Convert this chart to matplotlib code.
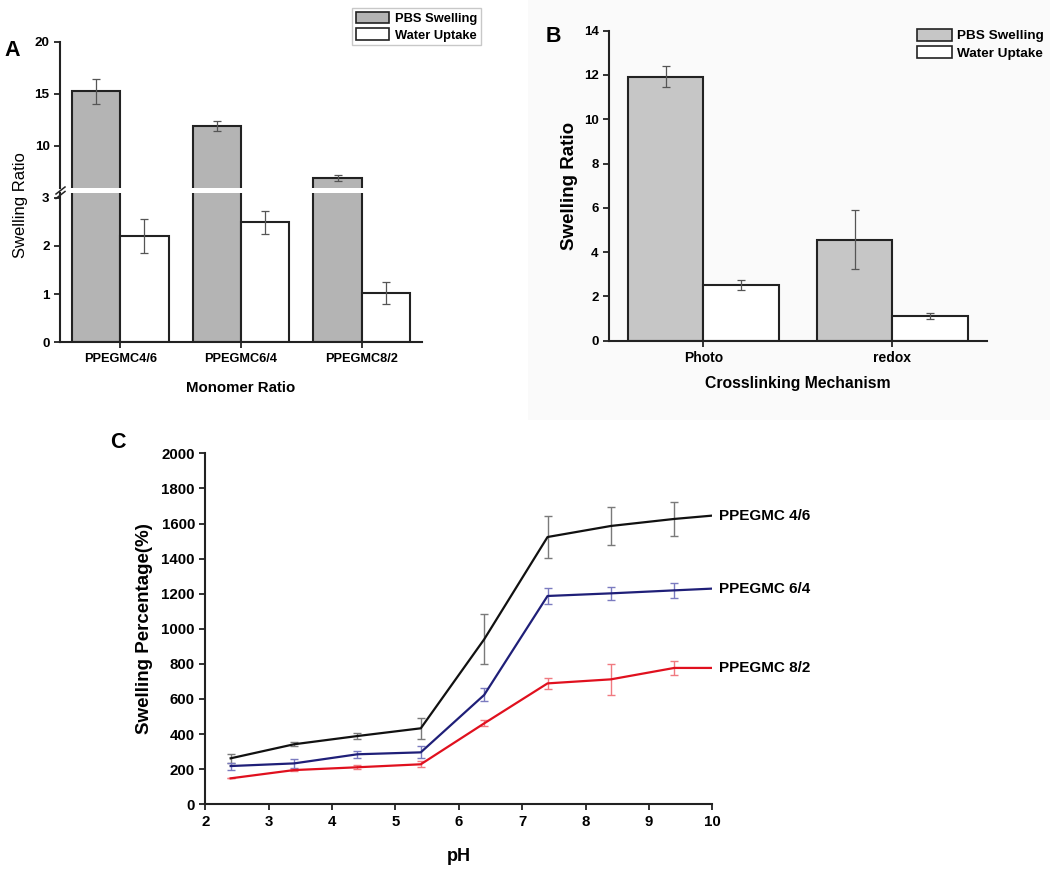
import numpy as np
import matplotlib
matplotlib.use('Agg')
import matplotlib.pyplot as plt
from matplotlib.patches import Rectangle

plt.rcParams['font.family'] = ['Liberation Sans', 'DejaVu Sans']
plt.rcParams['font.weight'] = 'bold'

# data ########################################################################
groups_a = ['PPEGMC4/6', 'PPEGMC6/4', 'PPEGMC8/2']
pbs_a = [15.25, 11.87, 6.88]
pbs_a_err = [1.2, 0.48, 0.3]
water_a = [2.21, 2.49, 1.02]
water_a_err = [0.35, 0.24, 0.23]

groups_b = ['Photo', 'redox']
pbs_b = [11.92, 4.56]
pbs_b_err = [0.47, 1.33]
water_b = [2.52, 1.12]
water_b_err = [0.24, 0.15]

ph = [2.4, 3.4, 4.4, 5.4, 6.4, 7.4, 8.4, 9.4, 10.0]
sw_46 = [262, 342, 389, 433, 940, 1523, 1586, 1626, 1645]
sw_46_err = [25, 12, 15, 60, 143, 120, 108, 95, 0]
sw_64 = [218, 233, 285, 296, 623, 1187, 1202, 1219, 1229]
sw_64_err = [20, 24, 21, 35, 37, 46, 38, 42, 0]
sw_82 = [148, 195, 211, 228, 461, 689, 712, 777, 777]
sw_82_err = [0, 8, 12, 17, 17, 30, 87, 39, 0]
series_labels = ['PPEGMC 4/6', 'PPEGMC 6/4', 'PPEGMC 8/2']
###############################################################################

W, H = 1050, 873
fig = plt.figure(figsize=(W / 100, H / 100), dpi=100)

def frac(x0, y0, x1, y1):
    # pixel box (top-left origin) -> figure fraction rect
    return [x0 / W, 1 - y1 / H, (x1 - x0) / W, (y1 - y0) / H]

# faint background behind panel B
fig.patches.append(Rectangle((528 / W, 1 - 420 / H), 1 - 528 / W, 420 / H,
                             transform=fig.transFigure, facecolor='#fafafa',
                             edgecolor='none', zorder=-10))

spine_c = '#222222'
err_c = '#555555'

def style_axes(ax, lw=1.5):
    for s in ['top', 'right']:
        ax.spines[s].set_visible(False)
    for s in ['left', 'bottom']:
        ax.spines[s].set_linewidth(lw)
        ax.spines[s].set_color(spine_c)
    ax.tick_params(direction='out', length=4, width=1.3, color=spine_c)
    ax.patch.set_alpha(0)

# Panel A (broken y axis) #####################################################
ax_lo = fig.add_axes(frac(60, 192.7, 422, 342.3))
ax_hi = fig.add_axes(frac(60, 42, 422, 187.7))
xa = np.arange(1, len(groups_a) + 1)
bw = 0.4
for ax in (ax_lo, ax_hi):
    style_axes(ax)
    ax.bar(xa - bw / 2, pbs_a, bw, color='#b4b4b4', edgecolor=spine_c, linewidth=1.5)
    ax.bar(xa + bw / 2, water_a, bw, color='white', edgecolor=spine_c, linewidth=1.5)
    ax.set_xlim(0.5, 3.5)
ax_hi.errorbar(xa - bw / 2, pbs_a, yerr=pbs_a_err, fmt='none', ecolor=err_c,
               elinewidth=0.9, capsize=3, capthick=0.9)
ax_lo.errorbar(xa + bw / 2, water_a, yerr=water_a_err, fmt='none', ecolor=err_c,
               elinewidth=0.9, capsize=3, capthick=0.9)
ax_lo.set_ylim(0, 3.1)
ax_lo.set_yticks([0, 1, 2, 3])
ax_hi.set_ylim(5.97, 20)
ax_hi.set_yticks([10, 15, 20])
ax_hi.spines['bottom'].set_visible(False)
ax_hi.tick_params(axis='x', bottom=False, labelbottom=False)
ax_lo.set_xticks(xa)
ax_lo.set_xticklabels(groups_a, fontsize=9.2, fontweight='bold')
for ax in (ax_lo, ax_hi):
    for lab in ax.get_yticklabels():
        lab.set_fontsize(9.7)
        lab.set_fontweight('bold')
ax_lo.set_xlabel('Monomer Ratio', fontsize=10.8, fontweight='bold', labelpad=12)
fig.text(20 / W, 1 - 205 / H, 'Swelling Ratio', rotation=90, fontsize=12,
         fontweight='normal', ha='center', va='center')
# break marks
for dy in (0, 4.5):
    fig.add_artist(plt.Line2D([56 / W, 65 / W], [1 - (194 + dy) / H, 1 - (187 + dy) / H],
                              color=spine_c, lw=1.1, transform=fig.transFigure))
fig.text(12 / W, 1 - 50 / H, 'A', fontsize=15.5, fontweight='bold', ha='center', va='center')
h1 = Rectangle((0, 0), 1, 1, facecolor='#b4b4b4', edgecolor=spine_c, lw=1.2)
h2 = Rectangle((0, 0), 1, 1, facecolor='white', edgecolor=spine_c, lw=1.2)
leg_a = fig.legend([h1, h2], ['PBS Swelling', 'Water Uptake'], loc='upper left',
                   bbox_to_anchor=(352 / W, 1 - 8 / H), frameon=True, fancybox=False,
                   prop={'size': 9.3, 'weight': 'bold'}, handlelength=2.6, handleheight=1.0,
                   handletextpad=0.4, labelspacing=0.25, borderpad=0.3, borderaxespad=0)
leg_a.get_frame().set_edgecolor('#bbbbbb')
leg_a.get_frame().set_linewidth(1.0)

# Panel B #####################################################################
ax_b = fig.add_axes(frac(609, 30.7, 986.7, 340.7))
style_axes(ax_b)
xb = np.arange(1, len(groups_b) + 1)
ax_b.bar(xb - bw / 2, pbs_b, bw, color='#c6c6c6', edgecolor=spine_c, linewidth=1.5)
ax_b.bar(xb + bw / 2, water_b, bw, color='white', edgecolor=spine_c, linewidth=1.5)
ax_b.errorbar(xb - bw / 2, pbs_b, yerr=pbs_b_err, fmt='none', ecolor=err_c,
              elinewidth=0.9, capsize=3, capthick=0.9)
ax_b.errorbar(xb + bw / 2, water_b, yerr=water_b_err, fmt='none', ecolor=err_c,
              elinewidth=0.9, capsize=3, capthick=0.9)
ax_b.set_xlim(0.5, 2.5)
ax_b.set_ylim(0, 14)
ax_b.set_yticks(range(0, 15, 2))
ax_b.set_xticks(xb)
ax_b.set_xticklabels(groups_b, fontsize=10, fontweight='bold')
for lab in ax_b.get_yticklabels():
    lab.set_fontsize(9.5)
    lab.set_fontweight('bold')
ax_b.set_xlabel('Crosslinking Mechanism', fontsize=11.3, fontweight='bold', labelpad=8)
ax_b.set_ylabel('Swelling Ratio', fontsize=13.5, fontweight='bold', labelpad=4)
fig.text(553 / W, 1 - 37 / H, 'B', fontsize=15.5, fontweight='bold', ha='center', va='center')
h1b = Rectangle((0, 0), 1, 1, facecolor='#c6c6c6', edgecolor=spine_c, lw=1.2)
leg_b = fig.legend([h1b, h2], ['PBS Swelling', 'Water Uptake'], loc='upper left',
                   bbox_to_anchor=(914 / W, 1 - 26 / H), frameon=False,
                   prop={'size': 9.7, 'weight': 'bold'}, handlelength=2.6, handleheight=1.0,
                   handletextpad=0.4, labelspacing=0.3, borderpad=0.2, borderaxespad=0)

# Panel C #####################################################################
ax_c = fig.add_axes(frac(205.3, 453.3, 712.3, 804.3))
style_axes(ax_c)
line_cols = ['#111111', '#1f1f78', '#e0101e']
err_cols = ['#7a7a7a', '#7b7bc0', '#f07a80']
for vals, errs, lc, ec, lab in zip([sw_46, sw_64, sw_82], [sw_46_err, sw_64_err, sw_82_err],
                                   line_cols, err_cols, series_labels):
    ax_c.plot(ph, vals, color=lc, lw=1.6, zorder=3)
    ax_c.errorbar(ph[:-1], vals[:-1], yerr=errs[:-1], fmt='none', ecolor=ec,
                  elinewidth=1.0, capsize=3, capthick=1.0, zorder=2)
    ax_c.annotate(lab, (ph[-1], vals[-1]), xytext=(5, 0), textcoords='offset points',
                  fontsize=11, fontweight='bold', va='center', ha='left',
                  annotation_clip=False)
ax_c.set_xlim(2, 10)
ax_c.set_ylim(0, 2000)
ax_c.set_xticks(range(2, 11))
ax_c.set_yticks(range(0, 2001, 200))
for lab in ax_c.get_xticklabels() + ax_c.get_yticklabels():
    lab.set_fontsize(10.8)
    lab.set_fontweight('bold')
ax_c.set_xlabel('pH', fontsize=13, fontweight='bold', labelpad=14)
ax_c.set_ylabel('Swelling Percentage(%)', fontsize=13.5, fontweight='bold', labelpad=6)
fig.text(118 / W, 1 - 443 / H, 'C', fontsize=15.5, fontweight='bold', ha='center', va='center')

fig.savefig('out.png', dpi=100, facecolor='white')
